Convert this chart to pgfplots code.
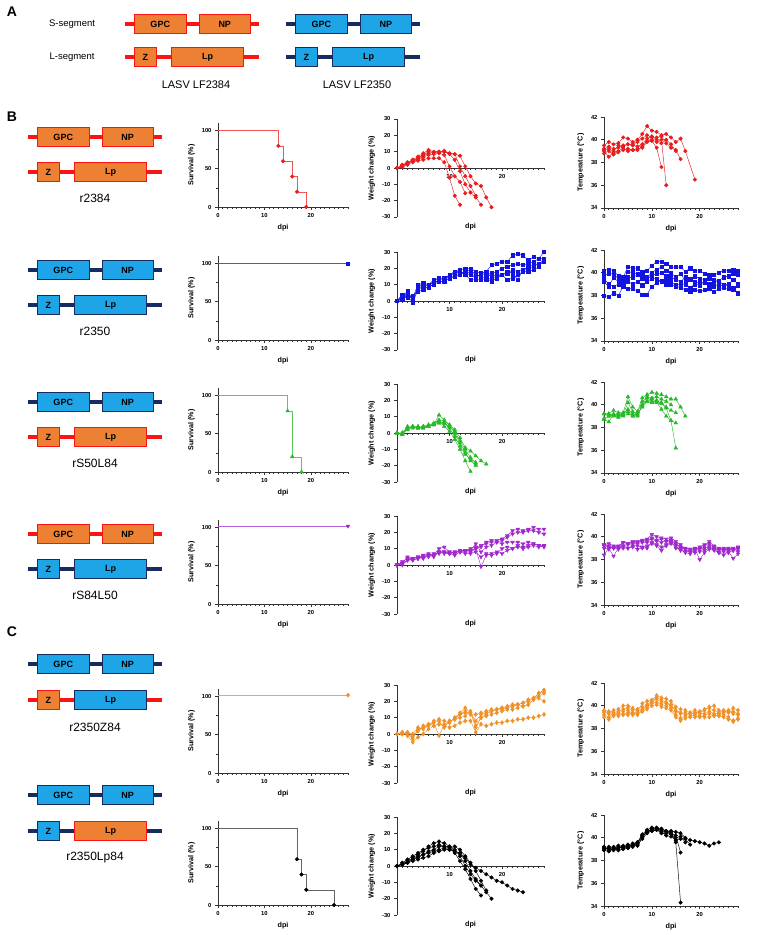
\documentclass[border=0pt]{standalone}
\usepackage{pgfplots}
\pgfplotsset{compat=1.18}
\usepackage{fontspec}
\setmainfont{Liberation Sans}
\definecolor{cR}{RGB}{232,28,28}
\definecolor{cB}{RGB}{20,20,225}
\definecolor{cG}{RGB}{40,185,40}
\definecolor{cP}{RGB}{160,40,205}
\definecolor{cO}{RGB}{240,145,40}
\definecolor{cK}{RGB}{0,0,0}
\definecolor{lRed}{RGB}{250,20,20}
\definecolor{fOr}{RGB}{238,128,52}
\definecolor{lNav}{RGB}{22,44,96}
\definecolor{fBl}{RGB}{30,165,232}
\pgfplotsset{
 base/.style={scale only axis, clip=false, tick align=outside,
   axis line style={line width=0.9pt,black!80},
   every tick/.style={line width=0.7pt,black!80},
   major tick length=3pt, minor tick length=1.8pt,
   tick label style={font=\bfseries\fontsize{5.8}{6.5}\selectfont},
   label style={font=\bfseries\fontsize{7.2}{8}\selectfont},
   /pgf/number format/assume math mode=true,
   xmin=0,xmax=28, xlabel={dpi},
   axis x line*=bottom, axis y line*=left,
   every axis plot/.append style={line width=0.45pt},
 },
 surv/.style={base, width=130pt,height=84pt, ymin=0,ymax=110, xtick={0,10,20}, minor xtick={1,...,28}, ytick={0,50,100}, minor ytick={25,75}, ylabel={Survival (\%)}},
 wgt/.style={base, width=147pt,height=98pt, ymin=-30,ymax=30, ytick={-30,-20,...,30}, xtick={10,20}, minor xtick={1,...,28}, axis x line*=middle, ylabel={Weight change (\%)}, xlabel style={at={(axis description cs:0.5,0)},anchor=north,yshift=-3pt}},
 tmp/.style={base, width=134pt,height=91pt, ymin=34,ymax=42, ytick={34,36,...,42}, xtick={0,10,20}, minor xtick={1,...,28}, ylabel={Temperature (°C)}},
 sR/.style={cR, mark=*, mark size=1.8pt},
 sB/.style={cB, mark=square*, mark size=1.6pt},
 sG/.style={cG, mark=triangle*, mark size=2.1pt},
 sP/.style={cP, mark=triangle*, mark size=2.1pt, mark options={rotate=180}},
 sO/.style={cO, mark=diamond*, mark size=2.1pt},
 sK/.style={cK, mark=*, mark size=1.8pt},
}
\newcommand{\Cline}[4]{\draw[line width=3.3pt,#4] (#1,#3) -- (#2,#3);}
\newcommand{\Cbox}[6]{\draw[line width=0.9pt,draw=#4,fill=#5] (#1,#3-9.5) rectangle (#2,#3+9.5); \node[font=\bfseries\fontsize{9}{10}\selectfont] at ({(#1+#2)/2},#3) {#6};}
% S segment: x, y, line, border, fill
\newcommand{\Sseg}[5]{\Cline{#1}{#1+134}{#2}{#3}\Cbox{#1+9.5}{#1+61}{#2}{#4}{#5}{GPC}\Cbox{#1+74}{#1+125.5}{#2}{#4}{#5}{NP}}
% L segment: x, y, line, Zborder, Zfill, Lpborder, Lpfill
\newcommand{\Lseg}[7]{\Cline{#1}{#1+134}{#2}{#3}\Cbox{#1+9.5}{#1+31}{#2}{#4}{#5}{Z}\Cbox{#1+46.5}{#1+118.5}{#2}{#6}{#7}{Lp}}
\begin{document}
\begin{tikzpicture}
\useasboundingbox (0,0) rectangle (760pt,-935pt);
\begin{scope}[x=1pt,y=-1pt]
\node[font=\bfseries\fontsize{14}{16}\selectfont] at (12,12) {A};
\node[font=\bfseries\fontsize{14}{16}\selectfont] at (12,117) {B};
\node[font=\bfseries\fontsize{14}{16}\selectfont] at (12,632) {C};
\node[font=\fontsize{9.5}{11}\selectfont] at (72,24) {S-segment};
\node[font=\fontsize{9.5}{11}\selectfont] at (72,57) {L-segment};
\Sseg{125}{24}{lRed}{lRed}{fOr}
\Lseg{125}{57}{lRed}{lRed}{fOr}{lRed}{fOr}
\Sseg{286}{24}{lNav}{lNav}{fBl}
\Lseg{286}{57}{lNav}{lNav}{fBl}{lNav}{fBl}
\node[font=\fontsize{11}{13}\selectfont] at (196,85) {LASV LF2384};
\node[font=\fontsize{11}{13}\selectfont] at (357,85) {LASV LF2350};
% B rows
\Sseg{28}{137}{lRed}{lRed}{fOr}
\Lseg{28}{172}{lRed}{lRed}{fOr}{lRed}{fOr}
\node[font=\fontsize{12}{14}\selectfont] at (95,198) {r2384};
\Sseg{28}{270}{lNav}{lNav}{fBl}
\Lseg{28}{305}{lNav}{lNav}{fBl}{lNav}{fBl}
\node[font=\fontsize{12}{14}\selectfont] at (95,331) {r2350};
\Sseg{28}{402}{lNav}{lNav}{fBl}
\Lseg{28}{437}{lRed}{lRed}{fOr}{lRed}{fOr}
\node[font=\fontsize{12}{14}\selectfont] at (95,463) {rS50L84};
\Sseg{28}{534}{lRed}{lRed}{fOr}
\Lseg{28}{569}{lNav}{lNav}{fBl}{lNav}{fBl}
\node[font=\fontsize{12}{14}\selectfont] at (95,595) {rS84L50};
% C rows
\Sseg{28}{664}{lNav}{lNav}{fBl}
\Lseg{28}{700}{lRed}{lRed}{fOr}{lNav}{fBl}
\node[font=\fontsize{12}{14}\selectfont] at (95,727) {r2350Z84};
\Sseg{28}{795}{lNav}{lNav}{fBl}
\Lseg{28}{831}{lNav}{lNav}{fBl}{lRed}{fOr}
\node[font=\fontsize{12}{14}\selectfont] at (95,858) {r2350Lp84};
\end{scope}

%================ ROW 1 red r2384 =================
\begin{axis}[surv, at={(218pt,-207pt)}, anchor=south west]
\addplot[const plot, cR!75, no marks] coordinates {(0,100)(13,80)(14,60)(16,40)(17,20)(19,0)};
\addplot[only marks, sR] coordinates {(13,80)(14,60)(16,40)(17,20)(19,0)};
\end{axis}
\begin{axis}[wgt, at={(397pt,-217pt)}, anchor=south west]
\addplot[sR] coordinates {(0,0)(1,1)(2,2.5)(3,3.5)(4,4.5)(5,5)(6,6)(7,6)(8,6)(9,3.5)(10,-6)(11,-17)(12,-22.5)};
\addplot[sR] coordinates {(0,0)(1,0.5)(2,2)(3,4)(4,5)(5,6.5)(6,8)(7,8.5)(8,9)(9,8)(10,1)(11,-5)(12,-8.5)(13,-15.5)};
\addplot[sR] coordinates {(0,0)(1,1)(2,3)(3,4.5)(4,6)(5,7.5)(6,9)(7,9.5)(8,10)(9,10)(10,8.5)(11,5)(12,-2)(13,-10)(14,-15)(15,-18)(16,-22.5)};
\addplot[sR] coordinates {(0,0)(1,1.5)(2,3)(3,5)(4,6)(5,8)(6,10)(7,9.5)(8,9.5)(9,10)(10,9)(11,8.5)(12,1)(13,-5)(14,-11)(15,-17)};
\addplot[sR] coordinates {(0,0)(1,2)(2,3.5)(3,5)(4,7)(5,9)(6,11)(7,10)(8,10)(9,10.5)(10,9)(11,8.5)(12,7.5)(13,1)(14,-5)(15,-9.5)(16,-11)(17,-18)(18,-24)};
\end{axis}
\begin{axis}[tmp, at={(604pt,-208pt)}, anchor=south west]
\addplot[sR] coordinates {(0,39.0)(1,38.5)(2,38.9)(3,39.0)(4,39.3)(5,39.0)(6,39.1)(7,39.2)(8,39.3)(9,39.8)(10,39.9)(11,39.3)(12,37.6)};
\addplot[sR] coordinates {(0,38.8)(1,39.0)(2,38.7)(3,38.9)(4,39.1)(5,39.2)(6,39.1)(7,39.1)(8,39.4)(9,39.9)(10,40.0)(11,39.8)(12,40.0)(13,36.0)};
\addplot[sR] coordinates {(0,39.2)(1,39.4)(2,39.2)(3,39.3)(4,39.5)(5,39.6)(6,39.5)(7,39.4)(8,39.6)(9,40.1)(10,40.3)(11,40.0)(12,39.7)(13,40.0)(14,39.6)(15,39.0)};
\addplot[sR] coordinates {(0,39.1)(1,39.2)(2,39.0)(3,39.5)(4,39.4)(5,39.6)(6,39.6)(7,39.8)(8,40.1)(9,40.4)(10,40.2)(11,40.2)(12,40.3)(13,39.7)(14,39.3)(15,39.1)(16,38.3)};
\addplot[sR] coordinates {(0,39.5)(1,39.8)(2,39.6)(3,39.7)(4,40.2)(5,40.1)(6,39.8)(7,40.0)(8,40.5)(9,41.2)(10,40.8)(11,40.7)(12,40.4)(13,40.5)(14,40.2)(15,39.8)(16,40.1)(17,39.0)(19,36.5)};
\end{axis}

%================ ROW 2 blue r2350 =================
\begin{axis}[surv, at={(218pt,-340pt)}, anchor=south west]
\addplot[cB!75, no marks] coordinates {(0,100)(28,100)};
\addplot[only marks, sB] coordinates {(28,100)};
\end{axis}
\begin{axis}[wgt, at={(397pt,-350pt)}, anchor=south west]
\addplot[sB] coordinates {(0,0)(1,2)(2,4)(3,1)(4,8)(5,11)(6,10)(7,13)(8,14)(9,13)(10,16)(11,18)(12,19)(13,20)(14,20)(15,18)(16,17)(17,18)(18,22)(19,23)(20,24)(21,24)(22,28)(23,29)(24,28)(25,25)(26,27)(27,26)(28,30)};
\addplot[sB] coordinates {(0,0)(1,1)(2,3)(3,-1)(4,7)(5,9)(6,10)(7,12)(8,12)(9,12)(10,14)(11,16)(12,17)(13,18)(14,17)(15,15)(16,16)(17,16)(18,17)(19,18)(20,20)(21,21)(22,22)(23,23)(24,22)(25,23)(26,24)(27,26)(28,26)};
\addplot[sB] coordinates {(0,0)(1,3)(2,6)(3,0)(4,9)(5,8)(6,8)(7,11)(8,13)(9,13)(10,15)(11,17)(12,18)(13,16)(14,13)(15,13)(16,13)(17,13)(18,14)(19,15)(20,16)(21,17)(22,19)(23,18)(24,19)(25,21)(26,22)(27,23)(28,25)};
\addplot[sB] coordinates {(0,0)(1,2)(2,5)(3,2)(4,10)(5,11)(6,9)(7,12)(8,14)(9,14)(10,16)(11,18)(12,18)(13,17)(14,16)(15,14)(16,17)(17,17)(18,15)(19,16)(20,16)(21,18)(22,17)(23,13)(24,19)(25,20)(26,21)(27,23)(28,24)};
\addplot[sB] coordinates {(0,0)(1,4)(2,2)(3,3)(4,6)(5,7)(6,9)(7,10)(8,12)(9,12)(10,14)(11,15)(12,16)(13,18)(14,19)(15,16)(16,15)(17,14)(18,12)(19,14)(20,16)(21,13)(22,14)(23,16)(24,18)(25,18)(26,19)(27,21)(28,25)};
\end{axis}
\begin{axis}[tmp, at={(604pt,-341pt)}, anchor=south west]
\addplot[sB] coordinates {(0,40.2)(1,40.3)(2,40.2)(3,39.7)(4,39.6)(5,40.5)(6,40.4)(7,40.4)(8,40.1)(9,40.2)(10,40.6)(11,41.0)(12,41.0)(13,40.8)(14,40.5)(15,40.5)(16,40.5)(17,40.1)(18,40.4)(19,40.2)(20,40.2)(21,39.9)(22,39.8)(23,39.8)(24,40.0)(25,40.2)(26,40.2)(27,40.3)(28,40.2)};
\addplot[sB] coordinates {(0,39.8)(1,39.9)(2,40.0)(3,39.4)(4,39.3)(5,40.1)(6,40.0)(7,39.9)(8,39.7)(9,39.6)(10,40.0)(11,40.3)(12,40.5)(13,40.2)(14,40.0)(15,39.6)(16,39.9)(17,39.3)(18,39.5)(19,39.7)(20,39.5)(21,39.4)(22,39.5)(23,39.4)(24,39.3)(25,39.6)(26,39.7)(27,39.9)(28,39.8)};
\addplot[sB] coordinates {(0,39.2)(1,38.8)(2,39.6)(3,39.2)(4,38.9)(5,39.6)(6,39.6)(7,39.8)(8,39.5)(9,39.4)(10,39.8)(11,39.9)(12,40.0)(13,39.7)(14,39.6)(15,39.4)(16,39.2)(17,39.6)(18,39.4)(19,39.2)(20,39.1)(21,39.2)(22,39.0)(23,39.1)(24,39.3)(25,38.9)(26,39.0)(27,39.4)(28,39.0)};
\addplot[sB] coordinates {(0,38.0)(1,37.9)(2,38.2)(3,38.0)(4,38.8)(5,38.6)(6,38.6)(7,38.4)(8,38.1)(9,38.1)(10,38.8)(11,39.1)(12,39.3)(13,39.4)(14,39.2)(15,38.9)(16,39.0)(17,39.0)(18,38.7)(19,39.0)(20,38.9)(21,39.1)(22,38.9)(23,38.8)(24,39.0)(25,38.8)(26,38.9)(27,38.7)(28,38.2)};
\addplot[sB] coordinates {(0,39.5)(1,39.0)(2,38.8)(3,39.0)(4,39.3)(5,39.2)(6,39.0)(7,39.2)(8,38.9)(9,39.2)(10,39.5)(11,39.5)(12,39.2)(13,39.0)(14,39.0)(15,38.8)(16,38.7)(17,38.5)(18,38.3)(19,38.5)(20,38.4)(21,38.5)(22,38.6)(23,38.3)(24,38.6)(25,38.7)(26,38.6)(27,38.5)(28,38.9)};
\end{axis}

%================ ROW 3 green rS50L84 =================
\begin{axis}[surv, at={(218pt,-472pt)}, anchor=south west]
\addplot[const plot, cG!75, no marks] coordinates {(0,100)(15,80)(16,20)(18,0)};
\addplot[only marks, sG] coordinates {(15,80)(16,20)(18,0)};
\end{axis}
\begin{axis}[wgt, at={(397pt,-482pt)}, anchor=south west]
\addplot[sG] coordinates {(0,0)(1,-1)(2,3)(3,4)(4,3)(5,3)(6,4)(7,5)(8,7)(9,4)(10,1)(11,-4)(12,-10)(13,-17)(14,-23.5)};
\addplot[sG] coordinates {(0,0)(1,0)(2,4)(3,4)(4,4)(5,3)(6,5)(7,5)(8,11)(9,8)(10,5)(11,0)(12,-6)(13,-12)(14,-17)(15,-20)};
\addplot[sG] coordinates {(0,0)(1,0)(2,2)(3,3)(4,3)(5,4)(6,4)(7,5)(8,6)(9,6)(10,4)(11,1)(12,-5)(13,-10)(14,-15)(15,-18)};
\addplot[sG] coordinates {(0,0)(1,-1)(2,3)(3,4)(4,3)(5,4)(6,4)(7,6)(8,7)(9,6)(10,3)(11,-2)(12,-8)(13,-13)(14,-16)(15,-19)};
\addplot[sG] coordinates {(0,0)(1,0)(2,3)(3,4)(4,4)(5,4)(6,5)(7,6)(8,8)(9,7)(10,5)(11,2)(12,-3)(13,-9)(14,-11)(15,-14)(16,-17)(17,-19)};
\end{axis}
\begin{axis}[tmp, at={(604pt,-473pt)}, anchor=south west]
\addplot[sG] coordinates {(0,39.2)(1,39.2)(2,39.5)(3,39.3)(4,39.3)(5,40.7)(6,39.8)(7,39.4)(8,40.6)(9,40.9)(10,41.1)(11,41.0)(12,40.9)(13,40.7)(14,40.5)(15,40.5)(16,39.8)(17,39.0)};
\addplot[sG] coordinates {(0,38.7)(1,38.5)(2,39.1)(3,39.0)(4,39.2)(5,39.6)(6,39.2)(7,39.0)(8,40.0)(9,40.3)(10,40.5)(11,40.3)(12,40.2)(13,39.7)(14,38.6)(15,38.4)};
\addplot[sG] coordinates {(0,39.2)(1,39.0)(2,39.2)(3,39.0)(4,39.0)(5,39.2)(6,39.0)(7,39.3)(8,40.3)(9,40.6)(10,40.3)(11,40.2)(12,39.6)(13,39.0)(14,38.6)(15,36.2)};
\addplot[sG] coordinates {(0,39.2)(1,39.2)(2,39.0)(3,38.9)(4,39.2)(5,39.4)(6,39.0)(7,39.2)(8,39.8)(9,40.3)(10,40.2)(11,40.4)(12,40.1)(13,39.8)(14,39.5)(15,39.3)};
\addplot[sG] coordinates {(0,38.8)(1,39.0)(2,39.1)(3,39.2)(4,39.1)(5,40.2)(6,39.4)(7,39.1)(8,39.9)(9,40.7)(10,40.6)(11,40.7)(12,40.5)(13,40.3)(14,40.0)};
\end{axis}

%================ ROW 4 purple rS84L50 =================
\begin{axis}[surv, at={(218pt,-604pt)}, anchor=south west]
\addplot[cP!75, no marks] coordinates {(0,102)(28,102)};
\addplot[only marks, sP] coordinates {(28,102)};
\end{axis}
\begin{axis}[wgt, at={(397pt,-614pt)}, anchor=south west]
\addplot[sP] coordinates {(0,0)(1,1)(2,3)(3,3)(4,4)(5,5)(6,6)(7,6)(8,8)(9,8)(10,7)(11,8)(12,8)(13,9)(14,9)(15,10)(16,11)(17,14)(18,15)(19,15)(20,16)(21,18)(22,21)(23,22)(24,21)(25,22)(26,23)(27,22)(28,22)};
\addplot[sP] coordinates {(0,0)(1,1)(2,5)(3,3)(4,4)(5,4)(6,6)(7,6)(8,10)(9,11)(10,8)(11,7)(12,9)(13,9)(14,10)(15,11)(16,12)(17,13)(18,14)(19,14)(20,15)(21,17)(22,19)(23,20)(24,20)(25,21)(26,21)(27,20)(28,19)};
\addplot[sP] coordinates {(0,0)(1,2)(2,4)(3,4)(4,5)(5,5)(6,5)(7,7)(8,7)(9,8)(10,7)(11,8)(12,8)(13,8)(14,8)(15,10)(16,-1)(17,6)(18,7)(19,8)(20,7)(21,9)(22,10)(23,11)(24,11)(25,12)(26,13)(27,12)(28,12)};
\addplot[sP] coordinates {(0,0)(1,1)(2,3)(3,4)(4,4)(5,6)(6,7)(7,6)(8,8)(9,8)(10,8)(11,7)(12,9)(13,9)(14,9)(15,13)(16,8)(17,11)(18,12)(19,14)(20,13)(21,14)(22,14)(23,14)(24,13)(25,14)(26,13)(27,12)(28,11)};
\addplot[sP] coordinates {(0,0)(1,0)(2,3)(3,4)(4,5)(5,5)(6,6)(7,5)(8,8)(9,7)(10,7)(11,6)(12,8)(13,7)(14,7)(15,8)(16,5)(17,7)(18,6)(19,7)(20,10)(21,11)(22,10)(23,12)(24,10)(25,11)(26,12)(27,11)(28,12)};
\end{axis}
\begin{axis}[tmp, at={(604pt,-605pt)}, anchor=south west]
\addplot[sP] coordinates {(0,39.3)(1,39.2)(2,39.0)(3,39.2)(4,39.5)(5,39.4)(6,39.5)(7,39.6)(8,39.7)(9,39.8)(10,40.2)(11,40.0)(12,39.9)(13,39.8)(14,39.9)(15,39.6)(16,39.3)(17,38.9)(18,38.9)(19,39.0)(20,39.0)(21,39.2)(22,39.6)(23,39.2)(24,39.0)(25,38.8)(26,39.0)(27,38.8)(28,39.1)};
\addplot[sP] coordinates {(0,39.0)(1,38.9)(2,39.1)(3,39.1)(4,39.2)(5,39.3)(6,39.4)(7,39.4)(8,39.5)(9,39.5)(10,39.9)(11,39.7)(12,39.8)(13,39.6)(14,39.5)(15,39.4)(16,39.0)(17,38.9)(18,38.7)(19,38.8)(20,38.9)(21,39.0)(22,39.2)(23,39.0)(24,38.8)(25,38.9)(26,38.8)(27,38.9)(28,38.9)};
\addplot[sP] coordinates {(0,38.4)(1,39.0)(2,38.3)(3,39.0)(4,39.0)(5,39.0)(6,39.2)(7,39.2)(8,39.1)(9,39.2)(10,39.4)(11,39.2)(12,38.8)(13,39.3)(14,39.6)(15,39.0)(16,38.9)(17,38.6)(18,38.5)(19,38.9)(20,38.0)(21,38.6)(22,38.9)(23,38.8)(24,38.6)(25,38.4)(26,38.7)(27,38.1)(28,38.5)};
\addplot[sP] coordinates {(0,39.2)(1,39.1)(2,39.0)(3,38.9)(4,39.2)(5,39.0)(6,39.1)(7,38.9)(8,39.0)(9,39.0)(10,39.5)(11,39.3)(12,39.1)(13,39.2)(14,39.4)(15,39.2)(16,38.8)(17,38.7)(18,38.7)(19,38.6)(20,38.7)(21,38.8)(22,39.0)(23,38.9)(24,38.6)(25,38.7)(26,38.6)(27,38.8)(28,38.7)};
\addplot[sP] coordinates {(0,39.3)(1,39.4)(2,39.2)(3,39.1)(4,39.5)(5,39.4)(6,39.6)(7,39.5)(8,39.6)(9,39.7)(10,39.8)(11,39.6)(12,39.5)(13,39.6)(14,39.7)(15,39.4)(16,39.1)(17,39.0)(18,38.9)(19,38.8)(20,39.1)(21,39.3)(22,39.4)(23,39.1)(24,38.9)(25,39.0)(26,38.9)(27,39.0)(28,39.0)};
\end{axis}

%================ ROW 5 orange r2350Z84 =================
\begin{axis}[surv, at={(218pt,-773pt)}, anchor=south west]
\addplot[cO!80, no marks] coordinates {(0,102)(28,102)};
\addplot[only marks, sO] coordinates {(28,102)};
\end{axis}
\begin{axis}[wgt, at={(397pt,-783pt)}, anchor=south west]
\addplot[sO] coordinates {(0,0)(1,0)(2,1)(3,-1)(4,2)(5,4)(6,5)(7,7)(8,8)(9,4)(10,8)(11,9)(12,12)(13,14)(14,12)(15,12)(16,13)(17,14)(18,15)(19,15)(20,16)(21,17)(22,18)(23,18)(24,19)(25,21)(26,22)(27,25)(28,27)};
\addplot[sO] coordinates {(0,0)(1,1)(2,-1)(3,-5)(4,-2)(5,0)(6,3)(7,5)(8,6)(9,5)(10,7)(11,10)(12,12)(13,13)(14,13)(15,8)(16,12)(17,13)(18,14)(19,15)(20,15)(21,16)(22,17)(23,18)(24,19)(25,20)(26,22)(27,23)(28,25)};
\addplot[sO] coordinates {(0,0)(1,0)(2,0)(3,-3)(4,3)(5,4)(6,6)(7,7)(8,-1)(9,6)(10,8)(11,9)(12,10)(13,11)(14,14)(15,5)(16,10)(17,11)(18,12)(19,13)(20,14)(21,15)(22,15)(23,16)(24,17)(25,18)(26,21)(27,22)(28,20)};
\addplot[sO] coordinates {(0,0)(1,1)(2,0)(3,-2)(4,2)(5,5)(6,6)(7,5)(8,6)(9,5)(10,4)(11,5)(12,7)(13,8)(14,8)(15,1)(16,6)(17,5)(18,6)(19,7)(20,7)(21,8)(22,8)(23,9)(24,9)(25,10)(26,10)(27,11)(28,12)};
\addplot[sO] coordinates {(0,0)(1,0)(2,1)(3,0)(4,4)(5,3)(6,5)(7,8)(8,9)(9,8)(10,7)(11,10)(12,13)(13,16)(14,13)(15,4)(16,10)(17,12)(18,14)(19,15)(20,16)(21,16)(22,17)(23,18)(24,17)(25,18)(26,21)(27,25)(28,26)};
\end{axis}
\begin{axis}[tmp, at={(604pt,-774pt)}, anchor=south west]
\addplot[sO] coordinates {(0,39.5)(1,39.4)(2,39.6)(3,39.7)(4,40.0)(5,40.0)(6,39.8)(7,39.6)(8,40.2)(9,40.4)(10,40.5)(11,40.9)(12,40.7)(13,40.6)(14,40.4)(15,39.9)(16,39.7)(17,39.6)(18,39.4)(19,39.6)(20,39.4)(21,39.6)(22,39.9)(23,40.0)(24,39.6)(25,39.5)(26,39.4)(27,39.5)(28,39.3)};
\addplot[sO] coordinates {(0,39.4)(1,39.3)(2,39.2)(3,39.4)(4,39.5)(5,39.6)(6,39.3)(7,39.5)(8,39.7)(9,40.0)(10,40.3)(11,40.6)(12,40.3)(13,40.2)(14,40.0)(15,39.5)(16,39.3)(17,39.4)(18,39.3)(19,39.4)(20,39.3)(21,39.3)(22,39.5)(23,39.3)(24,39.3)(25,39.4)(26,39.6)(27,39.3)(28,39.2)};
\addplot[sO] coordinates {(0,39.0)(1,38.8)(2,39.1)(3,39.3)(4,39.2)(5,39.4)(6,39.2)(7,39.3)(8,39.5)(9,39.7)(10,40.0)(11,40.1)(12,39.9)(13,39.8)(14,39.6)(15,39.0)(16,38.7)(17,38.9)(18,39.0)(19,39.0)(20,39.1)(21,39.0)(22,39.0)(23,39.2)(24,39.1)(25,39.0)(26,38.8)(27,38.7)(28,38.8)};
\addplot[sO] coordinates {(0,39.2)(1,39.0)(2,39.3)(3,39.1)(4,39.3)(5,39.2)(6,39.4)(7,39.2)(8,39.6)(9,39.9)(10,40.2)(11,40.3)(12,40.1)(13,40.0)(14,39.8)(15,39.2)(16,38.9)(17,39.1)(18,39.1)(19,39.2)(20,39.0)(21,39.2)(22,39.3)(23,39.1)(24,39.2)(25,39.2)(26,39.0)(27,38.6)(28,38.9)};
\addplot[sO] coordinates {(0,39.6)(1,39.5)(2,39.4)(3,39.5)(4,39.7)(5,39.8)(6,39.6)(7,39.7)(8,39.9)(9,40.1)(10,40.4)(11,40.7)(12,40.5)(13,40.3)(14,40.1)(15,39.6)(16,39.4)(17,39.2)(18,39.3)(19,39.3)(20,39.5)(21,39.7)(22,39.8)(23,39.6)(24,39.4)(25,39.6)(26,39.5)(27,39.8)(28,39.6)};
\end{axis}

%================ ROW 6 black r2350Lp84 =================
\begin{axis}[surv, at={(218pt,-905pt)}, anchor=south west]
\addplot[const plot, black!60, no marks] coordinates {(0,100)(17,60)(18,40)(19,20)(25,0)};
\addplot[only marks, sK] coordinates {(17,60)(18,40)(19,20)(25,0)};
\end{axis}
\begin{axis}[wgt, at={(397pt,-915pt)}, anchor=south west]
\addplot[sK] coordinates {(0,0)(1,1)(2,3)(3,5)(4,7)(5,9)(6,12)(7,14)(8,15)(9,14)(10,12)(11,8)(12,3)(13,-2)(14,-8)(15,-14)(16,-18)};
\addplot[sK] coordinates {(0,0)(1,2)(2,4)(3,6)(4,8)(5,10)(6,11)(7,12)(8,13)(9,12)(10,12)(11,10)(12,6)(13,0)(14,-5)(15,-9)(16,-12)};
\addplot[sK] coordinates {(0,0)(1,1)(2,2)(3,4)(4,5)(5,7)(6,8)(7,9)(8,10)(9,11)(10,10)(11,9)(12,8)(13,3)(14,-3)(15,-8)(16,-12)(17,-16)(18,-20)};
\addplot[sK] coordinates {(0,0)(1,1)(2,3)(3,4)(4,6)(5,7)(6,9)(7,10)(8,12)(9,12)(10,11)(11,12)(12,10)(13,6)(14,2)(15,-3)(16,-9)(17,-15)};
\addplot[sK] coordinates {(0,0)(1,1)(2,2)(3,3)(4,4)(5,5)(6,6)(7,8)(8,9)(9,10)(10,10)(11,9)(12,8)(13,5)(14,1)(15,-1)(16,-3)(17,-5)(18,-7)(19,-9)(20,-10)(21,-12)(22,-14)(23,-15)(24,-16)};
\end{axis}
\begin{axis}[tmp, at={(604pt,-906pt)}, anchor=south west]
\addplot[sK] coordinates {(0,39.0)(1,39.1)(2,38.9)(3,39.2)(4,39.1)(5,39.3)(6,39.4)(7,39.3)(8,40.0)(9,40.6)(10,40.7)(11,40.8)(12,40.7)(13,40.6)(14,40.5)(15,39.6)(16,34.3)};
\addplot[sK] coordinates {(0,39.1)(1,39.0)(2,39.2)(3,39.0)(4,39.3)(5,39.2)(6,39.5)(7,39.6)(8,40.2)(9,40.5)(10,40.8)(11,40.9)(12,40.8)(13,40.6)(14,40.4)(15,40.2)(16,38.7)};
\addplot[sK] coordinates {(0,39.2)(1,38.9)(2,39.0)(3,39.1)(4,39.2)(5,39.1)(6,39.3)(7,39.6)(8,40.3)(9,40.7)(10,40.9)(11,40.8)(12,40.6)(13,40.5)(14,40.3)(15,40.0)(16,40.1)(17,39.6)};
\addplot[sK] coordinates {(0,38.9)(1,38.8)(2,39.1)(3,38.9)(4,39.0)(5,39.1)(6,39.3)(7,39.4)(8,39.9)(9,40.4)(10,40.6)(11,40.7)(12,40.5)(13,40.2)(14,40.1)(15,39.8)(16,39.9)(17,39.9)(18,39.4)};
\addplot[sK] coordinates {(0,39.0)(1,39.2)(2,39.0)(3,39.3)(4,39.2)(5,39.4)(6,39.2)(7,39.5)(8,40.1)(9,40.5)(10,40.6)(11,40.7)(12,40.4)(13,40.4)(14,40.6)(15,40.5)(16,40.4)(17,40.0)(18,39.8)(19,39.7)(20,39.6)(21,39.5)(22,39.3)(23,39.5)(24,39.6)};
\end{axis}
\end{tikzpicture}
\end{document}
